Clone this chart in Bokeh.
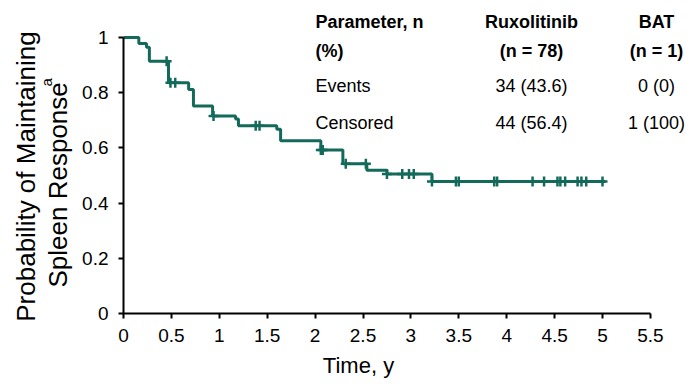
import math
from bokeh.plotting import figure
from bokeh.models import Range1d, FixedTicker, Label
from bokeh.embed import file_html
from bokeh.resources import INLINE

# ---- data ----
step_times = [0, 0.16, 0.24, 0.27, 0.47, 0.68, 0.73, 0.93, 1.17, 1.20, 1.60, 1.64,
              2.06, 2.29, 2.54, 2.75, 3.22]
survival = [1.0, 0.978, 0.965, 0.914, 0.836, 0.812, 0.752, 0.716, 0.705, 0.680, 0.668,
            0.626, 0.592, 0.543, 0.519, 0.505, 0.478]
last_followup = 5.03
censor_times = [0.45, 0.49, 0.54, 0.94, 1.38, 1.42, 2.06, 2.08, 2.32, 2.53, 2.75, 2.91,
                2.98, 3.03, 3.22, 3.47, 3.50, 3.87, 3.90, 4.27, 4.39, 4.53, 4.56, 4.61,
                4.74, 4.78, 4.83, 5.00]
x_ticks = [0, 0.5, 1, 1.5, 2, 2.5, 3, 3.5, 4, 4.5, 5, 5.5]
x_tick_labels = ["0", "0.5", "1", "1.5", "2", "2.5", "3", "3.5", "4", "4.5", "5", "5.5"]
y_ticks = [0, 0.2, 0.4, 0.6, 0.8, 1.0]
y_tick_labels = ["0", "0.2", "0.4", "0.6", "0.8", "1"]

table_header = ["Parameter, n", "Ruxolitinib", "BAT"]
table_header2 = ["(%)", "(n = 78)", "(n = 1)"]
row_labels = ["Events", "Censored"]
rux_values = ["34 (43.6)", "44 (56.4)"]
bat_values = ["0 (0)", "1 (100)"]

x_title = "Time, y"
y_title_1 = "Probability of Maintaining"
y_title_2 = "Spleen Response"
y_title_sup = "a"

COLOR = "#136a5a"
FONT = "Liberation Sans"

# ---- build KM step line from data ----
xs, ys = [], []
for i, (t, s) in enumerate(zip(step_times, survival)):
    if i > 0:
        xs.append(t)
        ys.append(survival[i - 1])
    xs.append(t)
    ys.append(s)
xs.append(last_followup)
ys.append(survival[-1])


def surv_at(t):
    val = survival[0]
    for st, s in zip(step_times, survival):
        if st <= t:
            val = s
    return val


cens_y = [surv_at(t) for t in censor_times]

# page layout: x=0 at px 123, 95.8 px per year; y=0 at py 313, 276 px per unit
W, H = 690, 386
X0, XS = 123.0, 95.8
Y0, YS = 313.0, 276.0
p = figure(width=W, height=H, output_backend="svg", toolbar_location=None,
           x_range=Range1d(-X0 / XS, (W - X0) / XS),
           y_range=Range1d((Y0 - H) / YS, Y0 / YS),
           min_border=0, min_border_left=0, min_border_right=0,
           min_border_top=0, min_border_bottom=0)
p.outline_line_color = None
p.xgrid.visible = False
p.ygrid.visible = False
p.background_fill_color = "white"
p.border_fill_color = "white"

p.line(xs, ys, line_color=COLOR, line_width=3)
p.scatter(censor_times, cens_y, marker="cross", size=10, line_color=COLOR, line_width=2.5)

for ax in (p.xaxis[0], p.yaxis[0]):
    ax.fixed_location = 0
    ax.axis_line_width = 2
    ax.axis_line_color = "black"
    ax.major_tick_line_width = 2
    ax.major_tick_line_color = "black"
    ax.major_tick_out = 5
    ax.major_tick_in = 0
    ax.minor_tick_line_color = None
    ax.major_label_text_font = FONT
    ax.major_label_text_font_size = "19px"
    ax.major_label_text_color = "black"

p.xaxis[0].ticker = FixedTicker(ticks=x_ticks)
p.xaxis[0].major_label_overrides = {t: l for t, l in zip(x_ticks, x_tick_labels)}
p.xaxis[0].bounds = (0, 5.5)
p.xaxis[0].major_label_standoff = 10
p.yaxis[0].ticker = FixedTicker(ticks=y_ticks)
p.yaxis[0].major_label_overrides = {t: l for t, l in zip(y_ticks, y_tick_labels)}
p.yaxis[0].bounds = (0, 1)
p.yaxis[0].major_label_standoff = 10


def lab(text, px, py, size, align="left", bold=False, angle=0.0, baseline="middle"):
    p.add_layout(Label(x=(px - X0) / XS, y=(Y0 - py) / YS,
                       text=text, text_font=FONT,
                       text_font_size=size, text_align=align, text_baseline=baseline,
                       text_font_style="bold" if bold else "normal", angle=angle,
                       text_color="black"))


# table
col_x = [315, 531, 656]
lab(table_header[0], col_x[0], 21, "18px", "left", True)
lab(table_header2[0], col_x[0], 50, "18px", "left", True)
for j in (1, 2):
    lab(table_header[j], col_x[j], 21, "18px", "center", True)
    lab(table_header2[j], col_x[j], 50, "18px", "center", True)
row_y = [85, 122]
for i in range(2):
    lab(row_labels[i], col_x[0], row_y[i], "18px", "left")
    lab(rux_values[i], col_x[1], row_y[i], "18px", "center")
    lab(bat_values[i], col_x[2], row_y[i], "18px", "center")

# axis titles
lab(x_title, 358, 365, "22px", "center")
lab(y_title_1, 25, 176, "26px", "center", angle=math.pi / 2)
lab(y_title_2, 57, 287, "26px", "left", angle=math.pi / 2)
lab(y_title_sup, 46, 86, "15px", "left", angle=math.pi / 2)

open("out.html", "w").write(file_html(p, INLINE))
